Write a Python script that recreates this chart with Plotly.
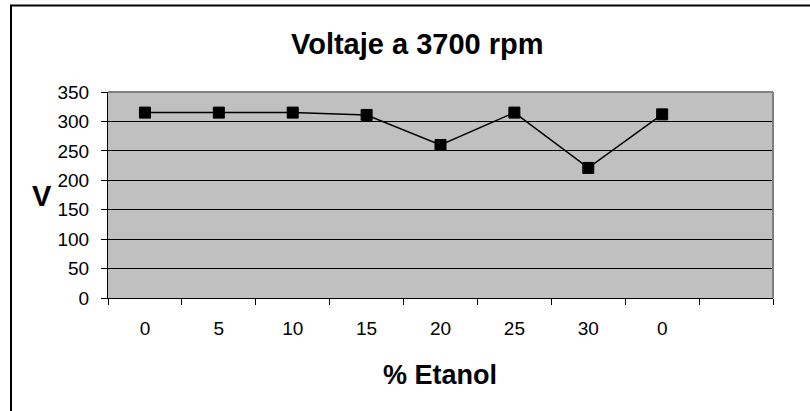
import plotly.graph_objects as go

# Ethanol percentage categories and measured voltage at 3700 rpm
etanol_labels = ["0", "5", "10", "15", "20", "25", "30", "0"]
voltaje = [315, 315, 315, 311, 260, 315, 221, 312]
y_ticks = [0, 50, 100, 150, 200, 250, 300, 350]

FONT = "Arial, Liberation Sans, sans-serif"
W, H = 810, 411
L, R, T, B = 108, 37, 92, 113
pw, ph = W - L - R, H - T - B

positions = list(range(len(etanol_labels)))
n_slots = len(etanol_labels) + 1  # one empty slot after the last category


def px_x(px):
    return (px - L) / pw


def px_y(py):
    return (H - B - py) / ph


fig = go.Figure()
fig.add_trace(go.Scatter(
    x=positions, y=voltaje, mode="lines+markers",
    line=dict(color="black", width=1.5),
    marker=dict(symbol="square", size=11, color="black",
                line=dict(color="black", width=1)),
    showlegend=False, hoverinfo="skip",
))

fig.update_layout(
    width=W, height=H,
    margin=dict(l=L, r=R, t=T, b=B),
    paper_bgcolor="white",
    plot_bgcolor="#C0C0C0",
    font=dict(family=FONT, color="black"),
    xaxis=dict(
        range=[-0.5, n_slots - 0.5],
        tickmode="array", tickvals=positions, ticktext=etanol_labels,
        ticks="", ticklen=0, showgrid=False, zeroline=False,
        showline=True, linecolor="black", linewidth=1,
        tickfont=dict(family=FONT, size=19, color="black"),
        ticklabelstandoff=13,
        minor=dict(tickmode="array",
                   tickvals=[i - 0.5 for i in range(n_slots + 1)],
                   ticks="outside", ticklen=6, tickcolor="black",
                   tickwidth=1, showgrid=False),
        fixedrange=True,
    ),
    yaxis=dict(
        range=[0, 350], tickmode="array", tickvals=y_ticks,
        ticks="outside", ticklen=6, tickcolor="black", tickwidth=1,
        showgrid=True, gridcolor="black", gridwidth=1, zeroline=False,
        showline=True, linecolor="black", linewidth=1,
        tickfont=dict(family=FONT, size=19, color="black"),
        ticklabelstandoff=8,
        fixedrange=True,
    ),
    shapes=[
        # plot-area border (top and right)
        dict(type="line", xref="paper", yref="paper", x0=0, x1=1, y0=1, y1=1,
             line=dict(color="#808080", width=2), layer="above"),
        dict(type="line", xref="paper", yref="paper", x0=1, x1=1, y0=0, y1=1,
             line=dict(color="#808080", width=2), layer="above"),
        # chart-area frame
        dict(type="line", xref="paper", yref="paper",
             x0=px_x(11), x1=px_x(11), y0=px_y(H + 10), y1=px_y(5),
             line=dict(color="black", width=2), layer="above"),
        dict(type="line", xref="paper", yref="paper",
             x0=px_x(10), x1=px_x(W + 10), y0=px_y(5.5), y1=px_y(5.5),
             line=dict(color="black", width=2), layer="above"),
    ],
    annotations=[
        dict(text="<b>Voltaje a 3700 rpm</b>", xref="paper", yref="paper",
             x=px_x(417), y=px_y(44), xanchor="center", yanchor="middle",
             showarrow=False, font=dict(family=FONT, size=29, color="black")),
        dict(text="<b>V</b>", xref="paper", yref="paper",
             x=px_x(42), y=px_y(196), xanchor="center", yanchor="middle",
             showarrow=False, font=dict(family=FONT, size=29, color="black")),
        dict(text="<b>% Etanol</b>", xref="paper", yref="paper",
             x=px_x(440), y=px_y(375), xanchor="center", yanchor="middle",
             showarrow=False, font=dict(family=FONT, size=27, color="black")),
    ],
)

fig.write_html("out.html")
